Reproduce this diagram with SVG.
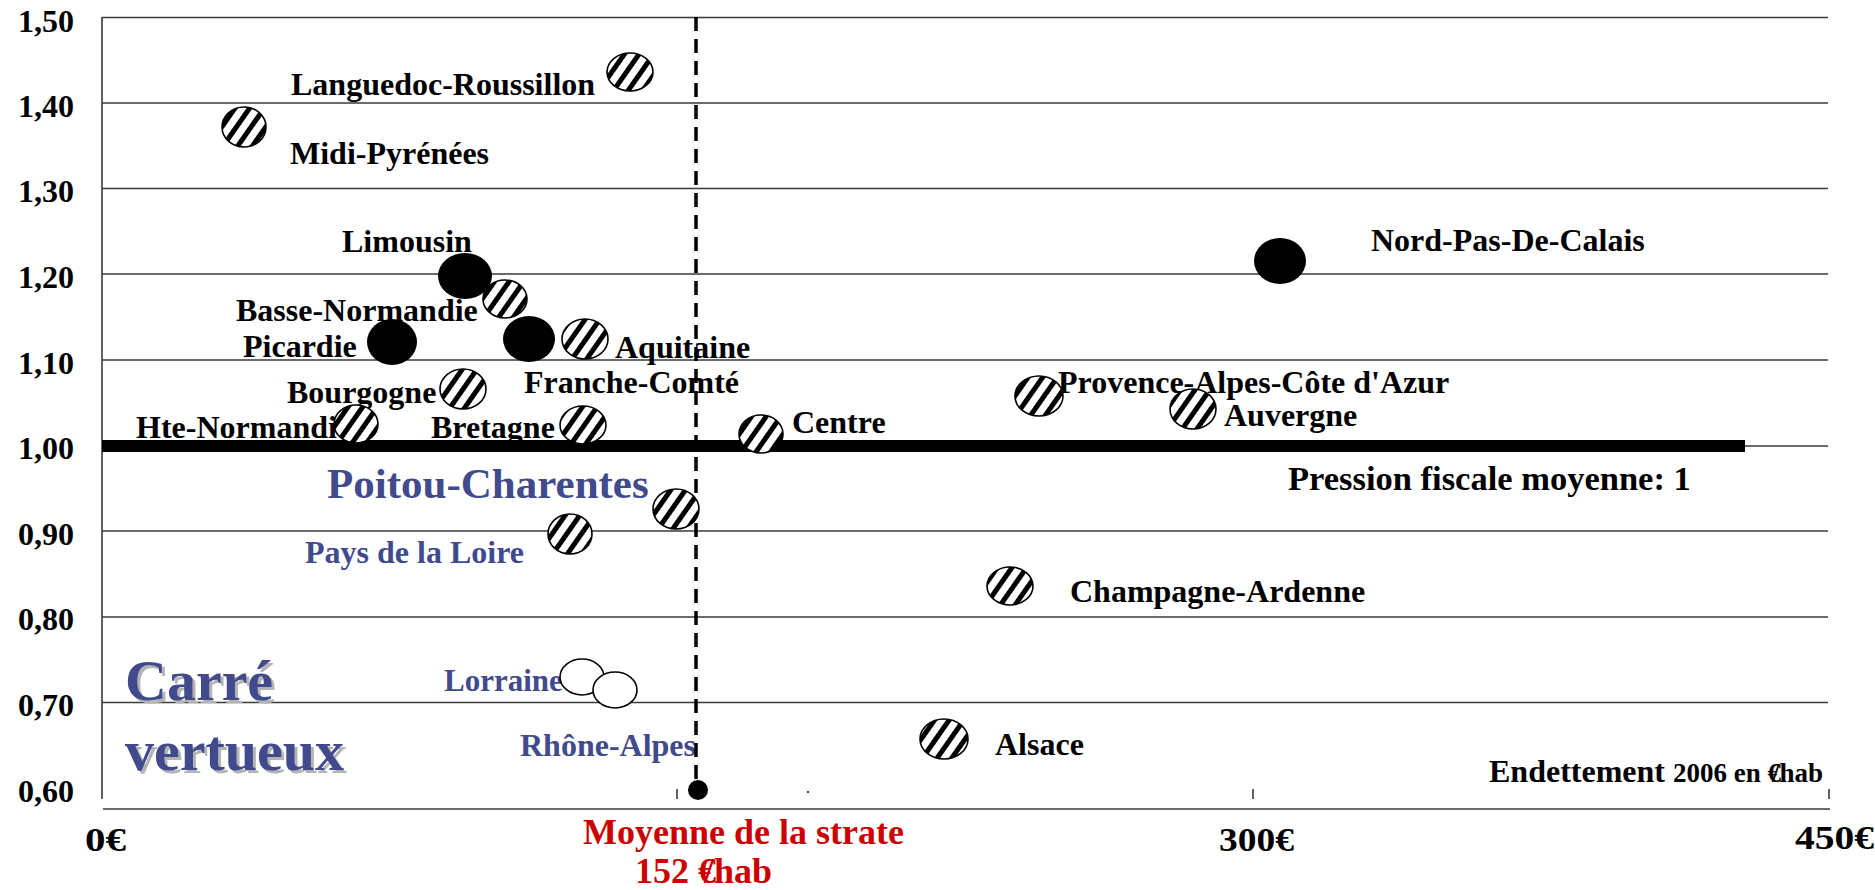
<svg xmlns="http://www.w3.org/2000/svg" width="1875" height="890" viewBox="0 0 1875 890">
<style>
text{font-family:"Liberation Serif","Times New Roman",serif;font-weight:bold}
.lbl{font-size:32px;fill:#000}
.ylab{font-size:32px;fill:#000;text-anchor:end}
.xlab{font-size:34px;fill:#000}
.blue{fill:#404a8c}
.red{fill:#cc0000;font-size:36px}
.grid{stroke:#3a3a3a;stroke-width:1.6;fill:none}
.stripe{fill:url(#stripes);stroke:#000;stroke-width:1.6}
.solid{fill:#000}
.open{fill:#fff;stroke:#000;stroke-width:1.6}
.big{font-size:58px}
</style>
<defs>
<pattern id="stripes" patternUnits="userSpaceOnUse" width="12" height="12" patternTransform="rotate(35)">
<rect width="12" height="12" fill="#fff"/>
<rect x="0" width="5" height="12" fill="#000"/>
</pattern>
</defs>
<rect width="1875" height="890" fill="#fff"/>

<g id="axes">
<line class="grid" x1="102" y1="17.5" x2="1828" y2="17.5"/>
<line class="grid" x1="102" y1="103" x2="1828" y2="103"/>
<line class="grid" x1="102" y1="188.5" x2="1828" y2="188.5"/>
<line class="grid" x1="102" y1="274" x2="1828" y2="274"/>
<line class="grid" x1="102" y1="360" x2="1828" y2="360"/>
<line class="grid" x1="102" y1="446" x2="1828" y2="446"/>
<line class="grid" x1="102" y1="531" x2="1828" y2="531"/>
<line class="grid" x1="102" y1="617" x2="1828" y2="617"/>
<line class="grid" x1="102" y1="702.5" x2="1828" y2="702.5"/>
<line class="grid" x1="102" y1="17" x2="102" y2="799"/>
<line class="grid" x1="103" y1="809" x2="1830" y2="809"/>
<line class="grid" x1="677" y1="789" x2="677" y2="799"/>
<line class="grid" x1="1253" y1="789" x2="1253" y2="799"/>
<line class="grid" x1="1829" y1="789" x2="1829" y2="799"/>
<circle cx="808" cy="792" r="1" fill="#000"/>
<text class="ylab" x="74" y="32">1,50</text>
<text class="ylab" x="74" y="117">1,40</text>
<text class="ylab" x="74" y="202">1,30</text>
<text class="ylab" x="74" y="288">1,20</text>
<text class="ylab" x="74" y="374">1,10</text>
<text class="ylab" x="74" y="459">1,00</text>
<text class="ylab" x="74" y="545">0,90</text>
<text class="ylab" x="74" y="630">0,80</text>
<text class="ylab" x="74" y="716">0,70</text>
<text class="ylab" x="74" y="802">0,60</text>
<text class="xlab" x="85" y="851" textLength="41" lengthAdjust="spacingAndGlyphs">0€</text>
<text class="xlab" x="1219" y="851" textLength="75" lengthAdjust="spacingAndGlyphs">300€</text>
<text class="xlab" x="1795" y="849" textLength="79" lengthAdjust="spacingAndGlyphs">450€</text>
<text x="1489" y="782" style="font-size:32px">Endettement <tspan style="font-size:27px">2006 en €<tspan dx="-9">/</tspan>hab</tspan></text>
</g>

<g id="reference-lines">
<line x1="102" y1="446" x2="1745" y2="446" stroke="#000" stroke-width="12"/>
<text x="1288" y="490" style="font-size:34.5px">Pression fiscale moyenne: 1</text>
</g>

<g id="labels">
<text class="lbl" x="291" y="95">Languedoc-Roussillon</text>
<text class="lbl" x="290" y="164">Midi-Pyrénées</text>
<text class="lbl" x="342" y="252">Limousin</text>
<text class="lbl" x="236" y="321">Basse-Normandie</text>
<text class="lbl" x="243" y="357">Picardie</text>
<text class="lbl" x="615" y="358">Aquitaine</text>
<text class="lbl" x="524" y="393">Franche-Comté</text>
<text class="lbl" x="287" y="403">Bourgogne</text>
<text class="lbl" x="136" y="438">Hte-Normandie</text>
<text class="lbl" x="431" y="438">Bretagne</text>
<text class="lbl" x="792" y="433">Centre</text>
<text class="lbl" x="1371" y="251">Nord-Pas-De-Calais</text>
<text class="lbl" x="1058" y="393">Provence-Alpes-Côte d'Azur</text>
<text class="lbl" x="1224" y="426">Auvergne</text>
<text class="lbl" x="1070" y="602">Champagne-Ardenne</text>
<text class="lbl" x="995" y="755">Alsace</text>
<text class="blue" x="327" y="498" style="font-size:43px">Poitou-Charentes</text>
<text class="blue" x="305" y="563" style="font-size:32px">Pays de la Loire</text>
<text class="blue" x="444" y="691" style="font-size:31px">Lorraine</text>
<text class="blue" x="520" y="756" style="font-size:32px">Rhône-Alpes</text>
</g>

<g id="carre-vertueux">
<text class="big" x="128" y="703" fill="#b4b4b4">Carré</text>
<text class="big" x="128" y="773" fill="#b4b4b4">vertueux</text>
<text class="big blue" x="125" y="700">Carré</text>
<text class="big blue" x="125" y="770">vertueux</text>
</g>

<g id="moyenne-strate">
<line x1="696" y1="17" x2="696" y2="786" stroke="#000" stroke-width="3.5" stroke-dasharray="14 8"/>
<circle cx="698" cy="790" r="10" fill="#000"/>
<text class="red" x="583" y="844">Moyenne de la strate</text>
<text class="red" x="635" y="883">152 €<tspan dx="-12">/</tspan>hab</text>
</g>

<g id="points">
<g id="n-limousin"><ellipse class="solid" cx="465" cy="276" rx="27" ry="23"/></g>
<g id="n-picardie"><ellipse class="solid" cx="392" cy="342" rx="25" ry="23"/></g>
<g id="n-franche-comte"><ellipse class="solid" cx="529" cy="339" rx="26" ry="23"/></g>
<g id="n-nord-pas-de-calais"><ellipse class="solid" cx="1280" cy="261" rx="26" ry="23"/></g>
<g id="n-languedoc"><ellipse class="stripe" cx="630" cy="72" rx="23" ry="19"/></g>
<g id="n-midi-pyrenees"><ellipse class="stripe" cx="244" cy="127" rx="22" ry="20"/></g>
<g id="n-basse-normandie"><ellipse class="stripe" cx="505" cy="299" rx="22" ry="19"/></g>
<g id="n-aquitaine"><ellipse class="stripe" cx="585" cy="339" rx="23" ry="20"/></g>
<g id="n-bourgogne"><ellipse class="stripe" cx="463" cy="389" rx="23" ry="20"/></g>
<g id="n-hte-normandie"><ellipse class="stripe" cx="356" cy="424" rx="22" ry="19"/></g>
<g id="n-bretagne"><ellipse class="stripe" cx="583" cy="425" rx="23" ry="19"/></g>
<g id="n-centre"><ellipse class="stripe" cx="761" cy="434" rx="22" ry="19"/></g>
<g id="n-paca"><ellipse class="stripe" cx="1039" cy="396" rx="24" ry="20"/></g>
<g id="n-auvergne"><ellipse class="stripe" cx="1193" cy="409" rx="23" ry="20"/></g>
<g id="n-poitou-charentes"><ellipse class="stripe" cx="676" cy="509" rx="23" ry="20"/></g>
<g id="n-pays-de-la-loire"><ellipse class="stripe" cx="570" cy="534" rx="22" ry="20"/></g>
<g id="n-champagne-ardenne"><ellipse class="stripe" cx="1010" cy="586" rx="23" ry="19"/></g>
<g id="n-alsace"><ellipse class="stripe" cx="944" cy="739" rx="24" ry="20"/></g>
<g id="n-lorraine"><ellipse class="open" cx="582" cy="677" rx="22" ry="18"/></g>
<g id="n-rhone-alpes"><ellipse class="open" cx="615" cy="690" rx="22" ry="18"/></g>
</g>
<g id="connectors"/>
</svg>
